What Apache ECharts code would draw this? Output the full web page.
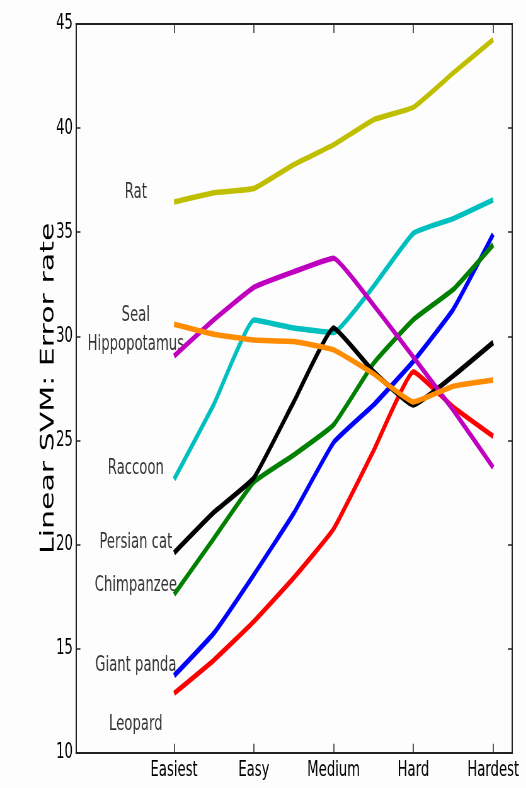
<!DOCTYPE html>
<html>
<head>
<meta charset="utf-8">
<script src="https://cdn.jsdelivr.net/npm/echarts@6/dist/echarts.min.js"></script>
<style>
  html, body { margin: 0; padding: 0; width: 526px; height: 788px; overflow: hidden; background: #fdfdfd; }
  /* the figure is laid out wide and squeezed horizontally */
  #chart { width: 835px; height: 788px; transform: scaleX(0.63); transform-origin: 0 0; }
</style>
</head>
<body>
<div id="chart"></div>
<script>
// Difficulty levels along the x axis
const categories = ['Easiest', 'Easy', 'Medium', 'Hard', 'Hardest'];
// Sample positions (half steps between difficulty levels)
const steps = [0, 0.5, 1, 1.5, 2, 2.5, 3, 3.5, 4];

// Error rate per class
const leopard      = [12.85, 14.45, 16.3, 18.4, 20.75, 24.5, 28.3, 26.6, 25.2];
const giantPanda   = [13.7, 15.75, 18.55, 21.5, 24.9, 26.7, 28.8, 31.3, 34.9];
const chimpanzee   = [17.6, 20.3, 23.0, 24.3, 25.75, 28.7, 30.8, 32.25, 34.4];
const raccoon      = [23.13, 26.75, 30.78, 30.4, 30.18, 32.4, 34.95, 35.65, 36.55];
const persianCat   = [19.6, 21.55, 23.2, 26.85, 30.4, 28.3, 26.7, 28.1, 29.7];
const hippopotamus = [29.05, 30.8, 32.35, 33.1, 33.75, 31.5, 29.0, 26.45, 23.7];
const seal         = [30.58, 30.1, 29.82, 29.75, 29.35, 28.2, 26.85, 27.6, 27.9];
const rat          = [36.45, 36.9, 37.1, 38.25, 39.2, 40.4, 41.0, 42.65, 44.25];

// Class name annotations placed left of the first level
const labelNames = ['Rat', 'Seal', 'Hippopotamus', 'Raccoon', 'Persian cat', 'Chimpanzee', 'Giant panda', 'Leopard'];
const labelY     = [36.9, 31.0, 29.6, 23.63, 20.1, 18.03, 14.18, 11.37];
const labelX     = -0.48;

const yTicks = [10, 15, 20, 25, 30, 35, 40, 45];

const lineDefs = [
  { name: 'Leopard', values: leopard, color: '#ff0000' },
  { name: 'Giant panda', values: giantPanda, color: '#0000ff' },
  { name: 'Chimpanzee', values: chimpanzee, color: '#008000' },
  { name: 'Raccoon', values: raccoon, color: '#00bfbf' },
  { name: 'Persian cat', values: persianCat, color: '#000000' },
  { name: 'Hippopotamus', values: hippopotamus, color: '#bf00bf' },
  { name: 'Seal', values: seal, color: '#ff8c00' },
  { name: 'Rat', values: rat, color: '#bfbf00' }
];

const FONT = 'DejaVu Sans';
const TEXT = '#000';
const catIndex = categories.map((c, i) => i);

const chart = echarts.init(document.getElementById('chart'), null, { renderer: 'canvas' });

const lineSeries = lineDefs.map(d => ({
  type: 'line',
  name: d.name,
  data: steps.map((x, i) => [x, d.values[i]]),
  showSymbol: false,
  smooth: 0.12,
  lineStyle: { color: d.color, width: 5.5 },
  itemStyle: { color: d.color },
  silent: true,
  z: 3
}));

const labelSeries = {
  type: 'scatter',
  data: labelNames.map((n, i) => ({ name: n, value: [labelX, labelY[i]] })),
  symbolSize: 0,
  silent: true,
  z: 2,
  label: {
    show: true,
    position: 'inside',
    formatter: '{b}',
    color: TEXT,
    fontFamily: FONT,
    fontSize: 21
  }
};

const frameLine = { show: true, onZero: false, lineStyle: { color: '#222', width: 2 } };

chart.setOption({
  animation: false,
  backgroundColor: '#fdfdfd',
  grid: { left: 120.6, right: 21.8, top: 24, bottom: 35.3, containLabel: false },
  xAxis: [
    {
      type: 'value', min: -1.23, max: 4.24, position: 'bottom',
      axisLine: frameLine,
      splitLine: { show: false },
      axisTick: { show: true, inside: true, length: 9, customValues: catIndex, lineStyle: { color: '#222', width: 1.5 } },
      axisLabel: {
        show: true, customValues: catIndex, margin: 7,
        formatter: v => categories[Math.round(v)] || '',
        color: TEXT, fontFamily: FONT, fontSize: 21
      }
    },
    {
      type: 'value', min: -1.23, max: 4.24, position: 'top',
      axisLine: frameLine,
      splitLine: { show: false },
      axisTick: { show: true, inside: true, length: 9, customValues: catIndex, lineStyle: { color: '#222', width: 1.5 } },
      axisLabel: { show: false }
    }
  ],
  yAxis: [
    {
      type: 'value', min: 10, max: 45, interval: 5, position: 'left',
      name: 'Linear SVM: Error rate', nameLocation: 'middle', nameRotate: 90, nameGap: 28,
      nameMoveOverlap: false,
      nameTextStyle: { fontFamily: FONT, fontSize: 30, color: TEXT },
      axisLine: frameLine,
      splitLine: { show: false },
      axisTick: { show: true, inside: true, length: 7, lineStyle: { color: '#222', width: 1.5 } },
      axisLabel: { show: true, margin: 5, color: TEXT, fontFamily: FONT, fontSize: 21,
        formatter: v => yTicks.includes(v) ? String(v) : '' }
    },
    {
      type: 'value', min: 10, max: 45, interval: 5, position: 'right',
      axisLine: frameLine,
      splitLine: { show: false },
      axisTick: { show: true, inside: true, length: 7, lineStyle: { color: '#222', width: 1.5 } },
      axisLabel: { show: false }
    }
  ],
  series: [labelSeries].concat(lineSeries)
});
</script>
</body>
</html>
